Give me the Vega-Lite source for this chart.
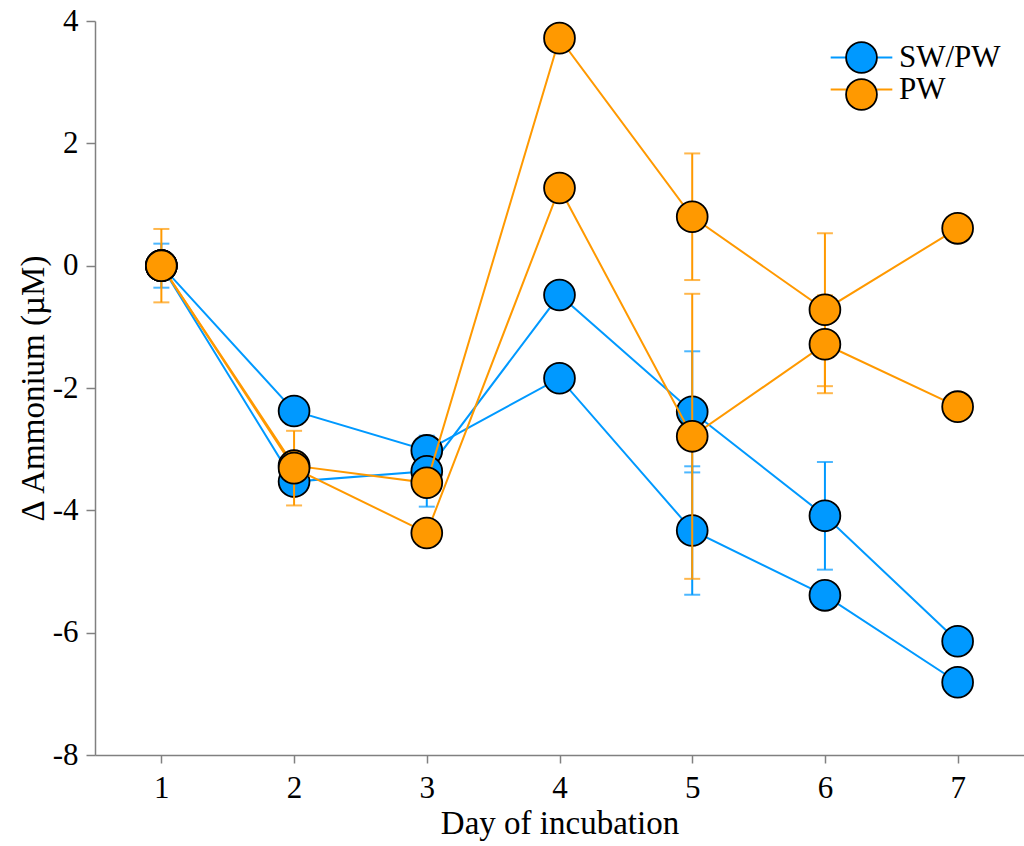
{
  "$schema": "https://vega.github.io/schema/vega-lite/v6.json",
  "width": 929,
  "height": 734,
  "autosize": {"type": "none"},
  "padding": {"left": 95, "top": 21, "right": 0, "bottom": 91},
  "background": "white",
  "config": {
    "view": {"stroke": null},
    "font": "Liberation Serif",
    "axis": {
      "grid": false,
      "domainColor": "#808080",
      "domainWidth": 1.5,
      "tickColor": "#808080",
      "tickWidth": 1.5,
      "labelFont": "Liberation Serif",
      "labelFontSize": 31,
      "labelColor": "black",
      "titleFont": "Liberation Serif",
      "titleFontSize": 33,
      "titleFontWeight": "normal",
      "titleColor": "black"
    },
    "legend": {
      "labelFont": "Liberation Serif",
      "labelFontSize": 31,
      "labelColor": "black",
      "padding": 0
    }
  },
  "data": {
    "values": [
      {"series": "SW/PW", "rep": "A", "day": 1, "value": 0, "err": 0.36},
      {"series": "SW/PW", "rep": "A", "day": 2, "value": -2.375, "err": 0.1},
      {"series": "SW/PW", "rep": "A", "day": 3, "value": -3.02, "err": 0.1},
      {"series": "SW/PW", "rep": "A", "day": 4, "value": -1.84, "err": 0.1},
      {"series": "SW/PW", "rep": "A", "day": 5, "value": -4.33, "err": 1.05},
      {"series": "SW/PW", "rep": "A", "day": 6, "value": -5.39, "err": 0.1},
      {"series": "SW/PW", "rep": "A", "day": 7, "value": -6.81, "err": 0.1},
      {"series": "SW/PW", "rep": "B", "day": 1, "value": 0, "err": 0.1},
      {"series": "SW/PW", "rep": "B", "day": 2, "value": -3.53, "err": 0.1},
      {"series": "SW/PW", "rep": "B", "day": 3, "value": -3.36, "err": 0.58},
      {"series": "SW/PW", "rep": "B", "day": 4, "value": -0.48, "err": 0.1},
      {"series": "SW/PW", "rep": "B", "day": 5, "value": -2.39, "err": 0.99},
      {"series": "SW/PW", "rep": "B", "day": 6, "value": -4.09, "err": 0.88},
      {"series": "SW/PW", "rep": "B", "day": 7, "value": -6.14, "err": 0.1},
      {"series": "PW", "rep": "C", "day": 1, "value": 0, "err": 0.6},
      {"series": "PW", "rep": "C", "day": 2, "value": -3.27, "err": 0.1},
      {"series": "PW", "rep": "C", "day": 3, "value": -3.55, "err": 0.1},
      {"series": "PW", "rep": "C", "day": 4, "value": 3.72, "err": 0.1},
      {"series": "PW", "rep": "C", "day": 5, "value": 0.8, "err": 1.035},
      {"series": "PW", "rep": "C", "day": 6, "value": -0.72, "err": 1.25},
      {"series": "PW", "rep": "C", "day": 7, "value": 0.61, "err": 0.1},
      {"series": "PW", "rep": "D", "day": 1, "value": 0, "err": 0.1},
      {"series": "PW", "rep": "D", "day": 2, "value": -3.31, "err": 0.61},
      {"series": "PW", "rep": "D", "day": 3, "value": -4.37, "err": 0.1},
      {"series": "PW", "rep": "D", "day": 4, "value": 1.27, "err": 0.1},
      {"series": "PW", "rep": "D", "day": 5, "value": -2.79, "err": 2.33},
      {"series": "PW", "rep": "D", "day": 6, "value": -1.285, "err": 0.8},
      {"series": "PW", "rep": "D", "day": 7, "value": -2.305, "err": 0.1}
    ]
  },
  "encoding": {
    "x": {
      "field": "day",
      "type": "quantitative",
      "scale": {"domain": [0.5, 7.5], "nice": false, "zero": false},
      "axis": {"values": [1, 2, 3, 4, 5, 6, 7], "tickSize": 8, "labelPadding": 10, "titlePadding": 4, "title": "Day of incubation"}
    },
    "y": {
      "field": "value",
      "type": "quantitative",
      "scale": {"domain": [-8, 4], "nice": false, "zero": false},
      "axis": {"values": [-8, -6, -4, -2, 0, 2, 4], "tickSize": 9, "labelPadding": 8, "titlePadding": 2, "title": "Δ Ammonium (µM)", "labelExpr": "datum.value < 0 ? '-' + abs(datum.value) : '' + datum.value"}
    }
  },
  "layer": [
    {
      "transform": [{"filter": "datum.series == 'SW/PW'"}],
      "mark": {"type": "line", "strokeWidth": 2},
      "encoding": {
        "detail": {"field": "rep"},
        "color": {
          "field": "series", "type": "nominal",
          "scale": {"domain": ["SW/PW", "PW"], "range": ["#0099FF", "#FF9900"]},
          "legend": {"title": null, "orient": "none", "legendX": 750, "legendY": 20, "symbolType": "M-2,0L-1,0M1,0L2,0", "symbolSize": 950, "symbolStrokeWidth": 2, "labelOffset": 21, "rowPadding": -2}
        }
      }
    },
    {
      "transform": [{"filter": "datum.series == 'SW/PW'"}],
      "mark": {"type": "errorbar", "ticks": true, "size": 16, "thickness": 2},
      "encoding": {
        "yError": {"field": "err"},
        "color": {"field": "series", "type": "nominal", "scale": {"domain": ["SW/PW", "PW"], "range": ["#0099FF", "#FF9900"]}, "legend": null}
      }
    },
    {
      "transform": [{"filter": "datum.series == 'SW/PW'"}],
      "mark": {"type": "circle", "size": 950, "opacity": 1, "stroke": "black", "strokeWidth": 1.8},
      "encoding": {
        "fill": {
          "field": "series", "type": "nominal", "sort": ["SW/PW", "PW"],
          "scale": {"range": ["#0099FF", "#FF9900"]},
          "legend": {"title": null, "orient": "none", "legendX": 750, "legendY": 20, "symbolType": "circle", "symbolSize": 950, "symbolStrokeColor": "black", "symbolStrokeWidth": 1.8, "symbolOpacity": 1, "labelExpr": "''", "labelOffset": 21, "rowPadding": -2}
        }
      }
    },
    {
      "transform": [{"filter": "datum.series == 'PW'"}],
      "mark": {"type": "line", "strokeWidth": 2},
      "encoding": {
        "detail": {"field": "rep"},
        "color": {
          "field": "series", "type": "nominal",
          "scale": {"domain": ["SW/PW", "PW"], "range": ["#0099FF", "#FF9900"]},
          "legend": {"title": null, "orient": "none", "legendX": 750, "legendY": 20, "symbolType": "M-2,0L-1,0M1,0L2,0", "symbolSize": 950, "symbolStrokeWidth": 2, "labelOffset": 21, "rowPadding": -2}
        }
      }
    },
    {
      "transform": [{"filter": "datum.series == 'PW'"}],
      "mark": {"type": "errorbar", "ticks": true, "size": 16, "thickness": 2},
      "encoding": {
        "yError": {"field": "err"},
        "color": {"field": "series", "type": "nominal", "scale": {"domain": ["SW/PW", "PW"], "range": ["#0099FF", "#FF9900"]}, "legend": null}
      }
    },
    {
      "transform": [{"filter": "datum.series == 'PW'"}],
      "mark": {"type": "circle", "size": 950, "opacity": 1, "stroke": "black", "strokeWidth": 1.8},
      "encoding": {
        "fill": {
          "field": "series", "type": "nominal", "sort": ["SW/PW", "PW"],
          "scale": {"range": ["#0099FF", "#FF9900"]},
          "legend": {"title": null, "orient": "none", "legendX": 750, "legendY": 20, "symbolType": "circle", "symbolSize": 950, "symbolStrokeColor": "black", "symbolStrokeWidth": 1.8, "symbolOpacity": 1, "labelExpr": "''", "labelOffset": 21, "rowPadding": -2}
        }
      }
    }
  ]
}
